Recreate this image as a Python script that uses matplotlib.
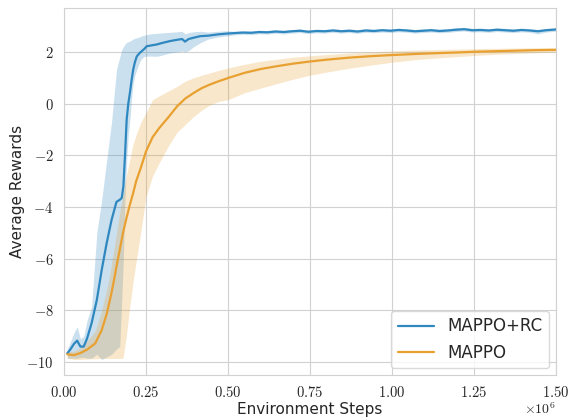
import numpy as np
import matplotlib
matplotlib.use("Agg")
import matplotlib.pyplot as plt
import seaborn as sns
from matplotlib.ticker import FuncFormatter

# data (x in units of 1e6 environment steps)
rc_x = [0.01, 0.02, 0.03, 0.04, 0.05, 0.06, 0.07, 0.084, 0.1, 0.115,
        0.13, 0.145, 0.16, 0.17, 0.176, 0.181, 0.186, 0.191, 0.196, 0.201,
        0.206, 0.211, 0.216, 0.222, 0.23, 0.237, 0.245, 0.252, 0.265, 0.283,
        0.3, 0.323, 0.345, 0.36, 0.369, 0.38, 0.395, 0.415, 0.44, 0.47,
        0.496,
        0.52, 0.545, 0.57, 0.595, 0.62, 0.645, 0.67, 0.695, 0.72, 0.745,
        0.77, 0.795, 0.82, 0.845, 0.87, 0.895, 0.92, 0.945, 0.97, 0.995,
        1.02, 1.045, 1.07, 1.095, 1.12, 1.145, 1.17, 1.195, 1.22, 1.245,
        1.27, 1.295, 1.32, 1.345, 1.37, 1.395, 1.42, 1.445, 1.47, 1.5]
rc_mean = [-9.66, -9.5, -9.3, -9.17, -9.4, -9.4, -9.1, -8.5, -7.6, -6.43,
           -5.4, -4.5, -3.8, -3.72, -3.65, -3.2, -2.0, -0.62, 0.0, 0.42,
           0.9, 1.32, 1.6, 1.83, 1.95, 2.03, 2.12, 2.22, 2.25, 2.29,
           2.35, 2.42, 2.47, 2.5, 2.4, 2.5, 2.55, 2.61, 2.63, 2.68,
           2.71,
           2.73, 2.75, 2.74, 2.77, 2.76, 2.79, 2.77, 2.8, 2.82, 2.78,
           2.81, 2.8, 2.83, 2.8, 2.82, 2.79, 2.83, 2.81, 2.84, 2.82,
           2.85, 2.83, 2.8, 2.82, 2.84, 2.81, 2.83, 2.86, 2.88, 2.84,
           2.85, 2.83, 2.86, 2.84, 2.82, 2.85, 2.83, 2.8, 2.84, 2.87]
rc_hi = [-9.5, -9.2, -8.88, -8.63, -9.1, -9.0, -8.4, -7.86, -5.0, -3.72,
         -2.2, -0.7, 1.32, 1.8, 2.09, 2.2, 2.3, 2.37, 2.4, 2.42,
         2.46, 2.5, 2.53, 2.55, 2.58, 2.62, 2.65, 2.67, 2.7, 2.72,
         2.74, 2.76, 2.78, 2.8, 2.7, 2.75, 2.78, 2.8, 2.77, 2.8,
         2.82,
         2.8, 2.82, 2.81, 2.84, 2.83, 2.86, 2.84, 2.87, 2.89, 2.85,
         2.88, 2.87, 2.9, 2.87, 2.89, 2.86, 2.9, 2.88, 2.91, 2.89,
         2.92, 2.9, 2.87, 2.89, 2.91, 2.88, 2.9, 2.93, 2.95, 2.91,
         2.92, 2.9, 2.93, 2.91, 2.89, 2.92, 2.9, 2.87, 2.91, 2.93]
rc_lo = [-9.85, -9.85, -9.85, -9.85, -9.82, -9.82, -9.85, -9.85, -9.7, -9.9,
         -9.8, -9.7, -9.5, -9.4, -7.6, -6.0, -3.72, -2.2, -1.2, -0.62,
         0.2, 0.8, 1.1, 1.32, 1.6, 1.75, 1.83, 1.84, 1.84, 1.83,
         1.88, 1.96, 2.0, 2.03, 2.0, 2.05, 2.2, 2.35, 2.5, 2.58,
         2.62,
         2.66, 2.68, 2.67, 2.7, 2.69, 2.72, 2.7, 2.73, 2.75, 2.71,
         2.74, 2.73, 2.76, 2.73, 2.75, 2.72, 2.76, 2.74, 2.77, 2.75,
         2.78, 2.76, 2.73, 2.75, 2.77, 2.74, 2.76, 2.79, 2.81, 2.77,
         2.78, 2.76, 2.79, 2.77, 2.75, 2.78, 2.76, 2.7, 2.77, 2.8]

ppo_x = [0.01, 0.03, 0.05, 0.07, 0.095, 0.115, 0.13, 0.14, 0.15, 0.16,
         0.17, 0.18, 0.19, 0.2, 0.21, 0.22, 0.235, 0.25, 0.27, 0.29,
         0.32, 0.345, 0.37, 0.395, 0.42, 0.445, 0.47, 0.5, 0.55, 0.6,
         0.65, 0.7, 0.75, 0.8, 0.87, 0.94, 1.0, 1.07, 1.13, 1.2,
         1.26, 1.32, 1.38, 1.44, 1.5]
ppo_mean = [-9.7, -9.73, -9.65, -9.52, -9.28, -8.76, -8.15, -7.6, -7.0, -6.3,
            -5.65, -5.0, -4.45, -3.95, -3.5, -3.0, -2.45, -1.85, -1.3, -0.95,
            -0.5, -0.1, 0.2, 0.41, 0.6, 0.74, 0.86, 0.99, 1.19, 1.34,
            1.45, 1.55, 1.63, 1.7, 1.78, 1.84, 1.88, 1.92, 1.95, 1.98,
            2.01, 2.03, 2.05, 2.07, 2.08]
ppo_hi = [-9.6, -9.58, -9.45, -9.2, -8.8, -8.0, -7.2, -6.6, -5.8, -5.0,
          -4.2, -3.5, -2.8, -2.2, -1.6, -1.2, -0.7, -0.35, 0.15, 0.3,
          0.5, 0.67, 0.87, 1.0, 1.1, 1.19, 1.28, 1.38, 1.52, 1.64,
          1.72, 1.8, 1.85, 1.9, 1.96, 2.0, 2.04, 2.07, 2.09, 2.11,
          2.13, 2.14, 2.15, 2.16, 2.17]
ppo_lo = [-9.85, -9.9, -9.9, -9.88, -9.87, -9.86, -9.86, -9.86, -9.86, -9.86,
          -9.86, -9.85, -9.0, -7.9, -6.95, -6.1, -4.9, -3.6, -2.8, -2.3,
          -1.6, -1.1, -0.8, -0.5, -0.25, -0.05, 0.08, 0.15, 0.42, 0.6,
          0.78, 0.95, 1.1, 1.22, 1.37, 1.5, 1.6, 1.7, 1.76, 1.82,
          1.87, 1.91, 1.94, 1.97, 2.0]

x_scale = 1e6
blue = '#2f87c0'
orange = '#e8a030'

sns.set_style('whitegrid', {'grid.color': '.82', 'axes.edgecolor': '.82'})
plt.rcParams['mathtext.fontset'] = 'cm'
plt.rcParams['font.family'] = ['DejaVu Sans']

fig = plt.figure(figsize=(5.7, 4.17), dpi=100)
ax = fig.add_axes([0.1123, 0.1007, 0.8631, 0.8801])

rx = np.array(rc_x) * x_scale
px = np.array(ppo_x) * x_scale
ax.fill_between(rx, rc_lo, rc_hi, color=blue, alpha=0.25, linewidth=0)
ax.fill_between(px, ppo_lo, ppo_hi, color=orange, alpha=0.25, linewidth=0)
ax.plot(rx, rc_mean, color=blue, lw=1.6, label='MAPPO+RC')
ax.plot(px, ppo_mean, color=orange, lw=1.6, label='MAPPO')

ax.set_xlim(0, 1.5e6)
ax.set_ylim(-10.5, 3.7)
ax.set_xticks(np.arange(0, 1.51e6, 0.25e6))
ax.set_yticks(np.arange(-10, 3, 2))
ax.xaxis.set_major_formatter(FuncFormatter(lambda v, p: r'$%.2f$' % (v / x_scale)))
ax.yaxis.set_major_formatter(FuncFormatter(lambda v, p: r'$%d$' % round(v)))
ax.tick_params(labelsize=10.5, pad=4)
ax.text(1.0, -0.072, r'$\times10^{6}$', transform=ax.transAxes, ha='right', va='top', fontsize=10)

ax.set_xlabel('Environment Steps', fontsize=11, labelpad=1)
ax.set_ylabel('Average Rewards', fontsize=11, labelpad=1)

leg = ax.legend(loc='lower right', fontsize=12, frameon=True, handlelength=2.2,
                borderaxespad=0.4)
leg.get_frame().set_edgecolor('.82')

fig.savefig('out.png', dpi=100)
